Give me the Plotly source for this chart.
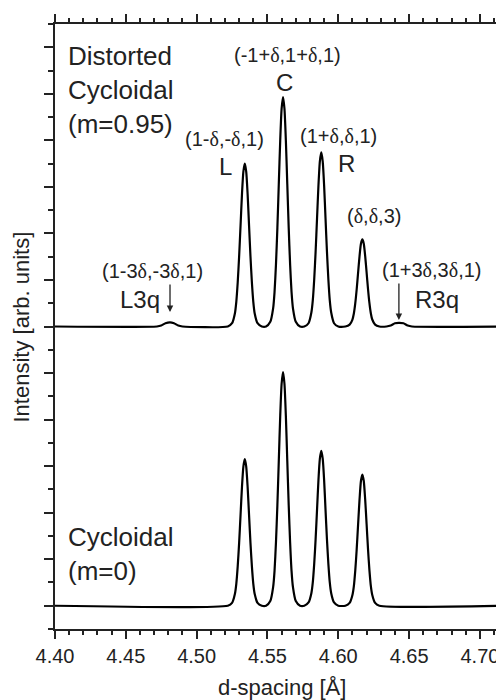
import plotly.graph_objects as go

# ---------------- data ----------------
# upper curve: distorted cycloidal (m=0.95), baseline offset 6
d_upper = [4.400, 4.472, 4.475, 4.478, 4.4812, 4.484, 4.487, 4.490,
           4.522, 4.525, 4.527, 4.528, 4.529, 4.530, 4.531, 4.532, 4.533, 4.534,
           4.535, 4.536, 4.537, 4.538, 4.539, 4.540, 4.541, 4.543, 4.546,
           4.549, 4.552, 4.554, 4.555, 4.556, 4.557, 4.558, 4.559, 4.560, 4.561,
           4.562, 4.563, 4.564, 4.565, 4.566, 4.567, 4.568, 4.570, 4.573,
           4.576, 4.579, 4.581, 4.582, 4.583, 4.584, 4.585, 4.586, 4.587, 4.588,
           4.589, 4.590, 4.591, 4.592, 4.593, 4.594, 4.595, 4.597, 4.600,
           4.605, 4.608, 4.610, 4.611, 4.612, 4.613, 4.614, 4.615, 4.616, 4.617,
           4.618, 4.619, 4.620, 4.621, 4.622, 4.623, 4.624, 4.626, 4.629,
           4.634, 4.637, 4.640, 4.6428, 4.646, 4.649, 4.652, 4.720]
i_upper = [6.00, 6.00, 6.02, 6.07, 6.09, 6.07, 6.02, 6.00,
           6.00, 6.07, 6.28, 6.53, 6.95, 7.51, 8.17, 8.84, 9.33, 9.50,
           9.33, 8.84, 8.17, 7.51, 6.95, 6.53, 6.28, 6.07, 6.00,
           6.00, 6.10, 6.39, 6.74, 7.33, 8.12, 9.06, 9.99, 10.68, 10.93,
           10.68, 9.99, 9.06, 8.12, 7.33, 6.74, 6.39, 6.10, 6.00,
           6.00, 6.07, 6.30, 6.56, 7.01, 7.61, 8.32, 9.03, 9.55, 9.74,
           9.55, 9.03, 8.32, 7.61, 7.01, 6.56, 6.30, 6.07, 6.00,
           6.00, 6.04, 6.15, 6.28, 6.50, 6.80, 7.16, 7.51, 7.78, 7.87,
           7.78, 7.51, 7.16, 6.80, 6.50, 6.28, 6.15, 6.04, 6.00,
           6.00, 6.02, 6.07, 6.08, 6.07, 6.02, 6.00, 6.00]

# lower curve: cycloidal (m=0), baseline 0
d_lower = [4.400,
           4.522, 4.525, 4.527, 4.528, 4.529, 4.530, 4.531, 4.532, 4.533, 4.534,
           4.535, 4.536, 4.537, 4.538, 4.539, 4.540, 4.541, 4.543, 4.546,
           4.549, 4.552, 4.554, 4.555, 4.556, 4.557, 4.558, 4.559, 4.560, 4.561,
           4.562, 4.563, 4.564, 4.565, 4.566, 4.567, 4.568, 4.570, 4.573,
           4.576, 4.579, 4.581, 4.582, 4.583, 4.584, 4.585, 4.586, 4.587, 4.588,
           4.589, 4.590, 4.591, 4.592, 4.593, 4.594, 4.595, 4.597, 4.600,
           4.605, 4.608, 4.610, 4.611, 4.612, 4.613, 4.614, 4.615, 4.616, 4.617,
           4.618, 4.619, 4.620, 4.621, 4.622, 4.623, 4.624, 4.626, 4.629,
           4.720]
i_lower = [0.00,
           0.00, 0.06, 0.25, 0.47, 0.85, 1.35, 1.95, 2.55, 2.99, 3.15,
           2.99, 2.55, 1.95, 1.35, 0.85, 0.47, 0.25, 0.06, 0.00,
           0.00, 0.10, 0.40, 0.75, 1.36, 2.16, 3.11, 4.07, 4.77, 5.02,
           4.77, 4.07, 3.11, 2.16, 1.36, 0.75, 0.40, 0.10, 0.00,
           0.00, 0.07, 0.27, 0.50, 0.90, 1.43, 2.06, 2.70, 3.16, 3.33,
           3.16, 2.70, 2.06, 1.43, 0.90, 0.50, 0.27, 0.07, 0.00,
           0.00, 0.06, 0.23, 0.42, 0.76, 1.21, 1.75, 2.28, 2.68, 2.82,
           2.68, 2.28, 1.75, 1.21, 0.76, 0.42, 0.23, 0.06, 0.00,
           0.00]

x_tick_vals = [4.40, 4.45, 4.50, 4.55, 4.60, 4.65, 4.70]
x_tick_text = ["4.40", "4.45", "4.50", "4.55", "4.60", "4.65", "4.70"]

D = '<span style="font-family:\'Liberation Serif\'">δ</span>'

# peak labels: (text, x, y, font size)
peak_labels = [
    ("(-1+" + D + ",1+" + D + ",1)", 4.5638, 11.83, 20),
    ("C", 4.5623, 11.25, 24),
    ("(1-" + D + ",-" + D + ",1)", 4.5200, 10.03, 20),
    ("L", 4.5207, 9.43, 24),
    ("(1+" + D + "," + D + ",1)", 4.6005, 10.09, 20),
    ("R", 4.6061, 9.51, 24),
    ("(" + D + "," + D + ",3)", 4.6252, 8.37, 20),
    ("(1+3" + D + ",3" + D + ",1)", 4.6661, 7.21, 20),
    ("R3q", 4.6696, 6.59, 24),
    ("(1-3" + D + ",-3" + D + ",1)", 4.4685, 7.19, 20),
    ("L3q", 4.4600, 6.59, 24),
]
# arrows: (x head, y head, tail offset px)
arrows = [(4.4812, 6.31, -29), (4.6428, 6.14, -38)]

FONT = "Liberation Sans, Arial, sans-serif"

fig = go.Figure()
fig.add_trace(go.Scatter(x=d_upper, y=i_upper, mode="lines",
                         line=dict(color="black", width=2.2, shape="spline", smoothing=0.6),
                         showlegend=False, hoverinfo="skip"))
fig.add_trace(go.Scatter(x=d_lower, y=i_lower, mode="lines",
                         line=dict(color="black", width=2.2, shape="spline", smoothing=0.6),
                         showlegend=False, hoverinfo="skip"))

ann = []
for txt, x, y, s in peak_labels:
    ann.append(dict(text=txt, x=x, y=y, xref="x", yref="y", showarrow=False,
                    xanchor="center", yanchor="middle",
                    font=dict(family=FONT, size=s, color="#222")))
for x, y, ay in arrows:
    ann.append(dict(text="", x=x, y=y, xref="x", yref="y", showarrow=True,
                    ax=0, ay=ay, arrowhead=2, arrowsize=1, arrowwidth=1.3,
                    arrowcolor="#222"))
ann.append(dict(text="Distorted<br>Cycloidal<br>(m=0.95)", x=4.4080, y=11.09,
                xref="x", yref="y", showarrow=False, xanchor="left", yanchor="middle",
                align="left", font=dict(family=FONT, size=26, color="#222")))
ann.append(dict(text="Cycloidal<br>(m=0)", x=4.4080, y=1.11,
                xref="x", yref="y", showarrow=False, xanchor="left", yanchor="middle",
                align="left", font=dict(family=FONT, size=26, color="#222")))
ann.append(dict(text="Intensity [arb. units]", x=-0.0735, y=0.5, xref="paper", yref="paper",
                showarrow=False, textangle=-90, xanchor="center", yanchor="middle",
                font=dict(family=FONT, size=22, color="#222")))
ann.append(dict(text="d-spacing [Å]", x=0.5056, y=-0.0975, xref="paper", yref="paper",
                showarrow=False, xanchor="center", yanchor="middle",
                font=dict(family=FONT, size=22, color="#222")))

# the page body keeps the browser's default 8 px margin, so the figure is
# sized 496 x 692 to fill the 504 x 700 window exactly
fig.update_layout(
    width=496, height=692,
    margin=dict(l=47, r=0, t=16, b=71, autoexpand=False),
    paper_bgcolor="white", plot_bgcolor="white",
    annotations=ann,
    xaxis=dict(range=[4.40, 4.717], tickvals=x_tick_vals, ticktext=x_tick_text,
               automargin=False,
               ticks="outside", ticklen=8, tickwidth=1.5, tickcolor="#222",
               showline=True, linewidth=2, linecolor="#222", mirror="ticks",
               showgrid=False, zeroline=False,
               tickfont=dict(family=FONT, size=20, color="#222"),
               minor=dict(dtick=0.01, ticks="outside", ticklen=4, tickwidth=1.5,
                          tickcolor="#222", showgrid=False)),
    yaxis=dict(range=[-0.5, 12.5], dtick=1, tick0=0, showticklabels=False,
               automargin=False,
               ticks="outside", ticklen=9, tickwidth=1.5, tickcolor="#222",
               showline=True, linewidth=2, linecolor="#222", mirror=False,
               showgrid=False, zeroline=False,
               minor=dict(dtick=0.5, tick0=0, ticks="outside", ticklen=5, tickwidth=1.5,
                          tickcolor="#222", showgrid=False)),
)

fig.write_html("out.html")
